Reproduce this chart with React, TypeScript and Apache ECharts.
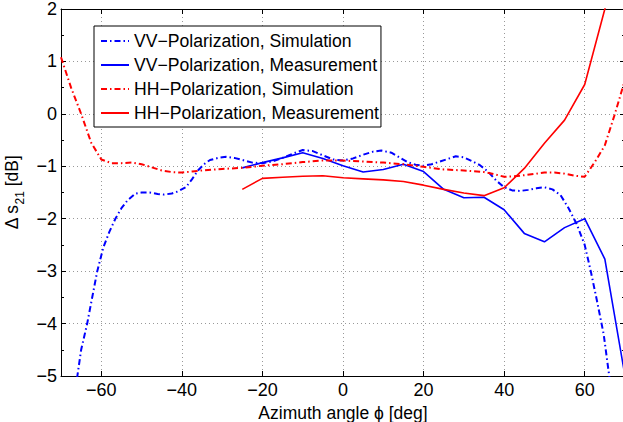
import React, { useEffect, useRef } from "react";
import * as echarts from "echarts";

const FONT = "'Liberation Sans', Arial, Helvetica, sans-serif";

const seriesNames = [
  "VV\u2212Polarization, Simulation",
  "VV\u2212Polarization, Measurement",
  "HH\u2212Polarization, Simulation",
  "HH\u2212Polarization, Measurement",
];

const xTickLabels = ["\u221260", "\u221240", "\u221220", "0", "20", "40", "60"];
const yTickLabels = ["\u22125", "\u22124", "\u22123", "\u22122", "\u22121", "0", "1", "2"];

const vvSimX = [
  -66.5, -65, -63.5, -61, -59.5, -58, -56.5, -55, -53.5, -51.5, -50, -48, -46, -44.5, -42.5, -41, -39,
  -37.5, -36, -34.5, -33, -31, -29, -27, -25, -22.5, -20, -17.5, -15, -12.5, -10, -7.5, -5, -2.5, 0,
  2.5, 5, 7.5, 9.5, 12, 14, 16, 18, 20, 22, 24, 26, 28, 30, 32, 34, 36, 38, 40, 42, 44, 46, 48, 50, 52,
  54, 56, 58, 60, 61.5, 63, 64.7, 66, 66.5,
];
const vvSimY = [
  -5.3, -4.5, -4.0, -3.0, -2.55, -2.25, -2.0, -1.8, -1.65, -1.52, -1.5, -1.5, -1.53, -1.54, -1.52, -1.48,
  -1.4, -1.25, -1.08, -0.96, -0.88, -0.84, -0.82, -0.84, -0.88, -0.93, -0.94, -0.91, -0.84, -0.76, -0.69,
  -0.71, -0.79, -0.87, -0.89, -0.85, -0.78, -0.72, -0.7, -0.74, -0.83, -0.92, -0.97, -0.99, -0.96, -0.91,
  -0.86, -0.81, -0.83, -0.9, -0.98, -1.1, -1.27, -1.4, -1.46, -1.47, -1.45, -1.42, -1.4, -1.44, -1.55,
  -1.8, -2.1, -2.5, -3.0, -3.55, -4.2, -4.95, -5.3,
];

const measX = [-25, -20, -15, -10, -5, 0, 5, 10, 15, 20, 25, 30, 35, 40, 45, 50, 55, 60, 65, 70];
const vvMeasY = [
  -1.03, -0.93, -0.84, -0.74, -0.85, -0.99, -1.11, -1.06, -0.96, -1.1, -1.44, -1.6, -1.59, -1.83, -2.28,
  -2.44, -2.17, -2.0, -2.77, -5.0,
];
const hhMeasY = [
  -1.44, -1.23, -1.21, -1.19, -1.18, -1.22, -1.24, -1.26, -1.29, -1.36, -1.44, -1.51, -1.56, -1.41, -1.04,
  -0.56, -0.12, 0.56, 2.0, 3.5,
];

const hhSimX = [
  -70, -67.5, -65, -62.5, -60, -57.5, -55, -52.5, -50, -47.5, -45, -42.5, -40, -37.5, -35, -30, -25, -20,
  -15, -10, -5, 0, 5, 10, 15, 20, 25, 30, 35, 37.5, 40, 42.5, 45, 50, 52.5, 55, 57.5, 60, 62.5, 65, 67.5, 70,
];
const hhSimY = [
  1.08, 0.5, 0.0, -0.55, -0.87, -0.94, -0.94, -0.93, -0.96, -1.02, -1.08, -1.11, -1.12, -1.1, -1.08, -1.05,
  -1.03, -0.99, -0.96, -0.92, -0.89, -0.89, -0.91, -0.93, -0.96, -1.01, -1.06, -1.08, -1.11, -1.15, -1.2,
  -1.19, -1.17, -1.12, -1.12, -1.14, -1.18, -1.2, -0.92, -0.6, 0.0, 0.65,
];

const zip = (xs: number[], ys: number[]) => xs.map((x, i) => [x, ys[i]]);

const BLUE = "#0000ff";
const RED = "#ff0000";
const DASHDOT = [6, 3, 1.5, 3];

const fmt = (v: number) => String(v).replace("-", "\u2212");

export default function App() {
  const ref = useRef<HTMLDivElement>(null);
  useEffect(() => {
    if (!ref.current) return;
    const chart = echarts.init(ref.current, undefined, { renderer: "svg" });
    const gridLine = { show: true, lineStyle: { color: "#999", type: [1, 3], width: 1 } };
    const baseX = {
      type: "value",
      min: -70,
      max: 70,
      splitNumber: 7,
      axisLine: { show: true, onZero: false, lineStyle: { color: "#000", width: 1 } },
      axisTick: { show: true, inside: true, length: 5, lineStyle: { color: "#000" } },
    };
    const baseY = {
      type: "value",
      min: -5,
      max: 2,
      interval: 1,
      axisLine: { show: true, onZero: false, lineStyle: { color: "#000", width: 1 } },
      axisTick: { show: true, inside: true, length: 5, lineStyle: { color: "#000" } },
      minorTick: { show: true, splitNumber: 2, length: 3, lineStyle: { color: "#000" } },
    };
    chart.setOption({
      animation: false,
      backgroundColor: "#fff",
      textStyle: { fontFamily: FONT },
      grid: {
        left: 61,
        top: 9,
        width: 564,
        height: 367,
        containLabel: false,
        outerBoundsMode: "none",
        show: false,
      },
      legend: {
        orient: "vertical",
        left: 94,
        top: 26,
        padding: [6, 2, 5, 6],
        itemGap: 6,
        itemWidth: 28,
        itemHeight: 17,
        backgroundColor: "#fff",
        borderColor: "#000",
        borderWidth: 1,
        borderRadius: 0,
        itemStyle: { opacity: 0 },
        textStyle: { fontSize: 17.6, fontFamily: FONT, color: "#000", lineHeight: 17 },
        data: seriesNames,
      },
      xAxis: [
        {
          ...baseX,
          position: "bottom",
          name: "Azimuth angle \u03d5 [deg]",
          nameLocation: "middle",
          nameGap: 19,
          nameTextStyle: { fontSize: 17.5, color: "#000", fontFamily: FONT },
          axisLabel: {
            fontSize: 18,
            color: "#000",
            margin: 5,
            fontFamily: FONT,
            showMinLabel: false,
            showMaxLabel: false,
            formatter: (v: number) => (xTickLabels.includes(fmt(v)) ? fmt(v) : ""),
          },
          splitLine: gridLine,
        },
        {
          ...baseX,
          position: "top",
          axisLabel: { show: false },
          splitLine: { show: false },
        },
      ],
      yAxis: [
        {
          ...baseY,
          position: "left",
          name: "{a|\u0394 s}{b|21}{a| [dB]}",
          nameLocation: "middle",
          nameGap: 23,
          nameTextStyle: {
            color: "#000",
            rich: {
              a: { fontSize: 17.5, fontFamily: FONT, color: "#000", lineHeight: 20, verticalAlign: "middle" },
              b: { fontSize: 12, fontFamily: FONT, color: "#000", lineHeight: 28, verticalAlign: "bottom" },
            },
          },
          axisLabel: {
            fontSize: 18,
            color: "#000",
            margin: 4,
            fontFamily: FONT,
            formatter: (v: number) => (yTickLabels.includes(fmt(v)) ? fmt(v) : ""),
          },
          splitLine: gridLine,
        },
        {
          ...baseY,
          position: "right",
          axisLabel: { show: false },
          splitLine: { show: false },
        },
      ],
      series: [
        {
          name: seriesNames[0],
          type: "line",
          data: zip(vvSimX, vvSimY),
          symbol: "none",
          clip: true,
          lineStyle: { color: BLUE, width: 2, type: DASHDOT },
          itemStyle: { color: BLUE },
        },
        {
          name: seriesNames[1],
          type: "line",
          data: zip(measX, vvMeasY),
          symbol: "none",
          clip: true,
          lineStyle: { color: BLUE, width: 1.6 },
          itemStyle: { color: BLUE },
        },
        {
          name: seriesNames[2],
          type: "line",
          data: zip(hhSimX, hhSimY),
          symbol: "none",
          clip: true,
          lineStyle: { color: RED, width: 2, type: DASHDOT },
          itemStyle: { color: RED },
        },
        {
          name: seriesNames[3],
          type: "line",
          data: zip(measX, hhMeasY),
          symbol: "none",
          clip: true,
          lineStyle: { color: RED, width: 1.6 },
          itemStyle: { color: RED },
        },
      ],
    });
    return () => chart.dispose();
  }, []);
  return (
    <div
      ref={ref}
      style={{ position: "fixed", left: 0, top: 0, width: 623, height: 422, background: "#fff" }}
    />
  );
}
